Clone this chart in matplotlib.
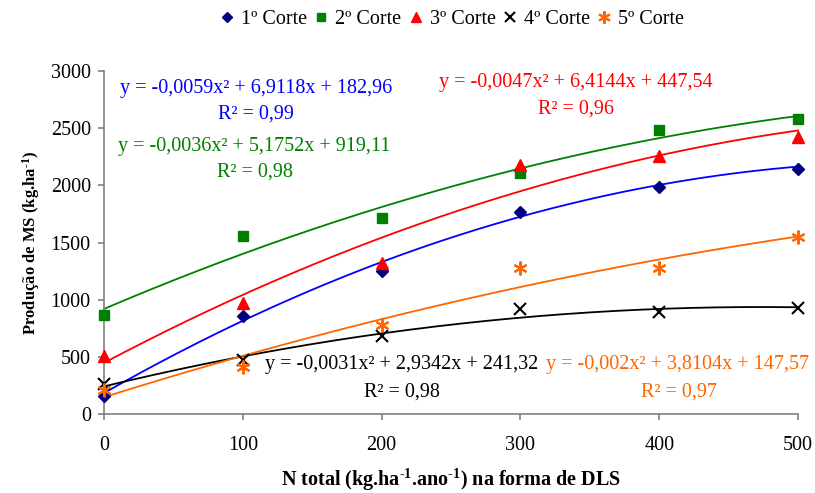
import numpy as np
import matplotlib
matplotlib.use("Agg")
import matplotlib.pyplot as plt

plt.rcParams['font.family'] = ['Liberation Serif', 'DejaVu Serif']
plt.rcParams['mathtext.fontset'] = 'custom'
plt.rcParams['mathtext.rm'] = 'Liberation Serif'
plt.rcParams['mathtext.it'] = 'Liberation Serif:italic'
plt.rcParams['mathtext.bf'] = 'Liberation Serif:bold'

# N doses (kg/ha/yr)
doses = [0, 100, 200, 300, 400, 500]

# Dry matter yield per cut (kg/ha)
corte1 = [160, 860, 1250, 1770, 1985, 2145]
corte2 = [870, 1560, 1710, 2110, 2480, 2580]
corte3 = [510, 970, 1320, 2180, 2260, 2420]
corte4 = [260, 470, 680, 920, 890, 930]
corte5 = [210, 410, 780, 1280, 1280, 1550]

series_names = ["1º Corte", "2º Corte", "3º Corte", "4º Corte", "5º Corte"]

# Quadratic fit coefficients (a, b, c) and R² for each cut
coef1 = (-0.0059, 6.9118, 182.96)
coef2 = (-0.0036, 5.1752, 919.11)
coef3 = (-0.0047, 6.4144, 447.54)
coef4 = (-0.0031, 2.9342, 241.32)
coef5 = (-0.002, 3.8104, 147.57)
r2_values = ["0,99", "0,98", "0,96", "0,98", "0,97"]
eq_texts = [
    "y = -0,0059x² + 6,9118x + 182,96",
    "y = -0,0036x² + 5,1752x + 919,11",
    "y = -0,0047x² + 6,4144x + 447,54",
    "y = -0,0031x² + 2,9342x + 241,32",
    "y = -0,002x² + 3,8104x + 147,57",
]

marker_colors = ["#000080", "#008000", "#FF0000", "#000000", "#FF6600"]
line_colors = ["#0000FF", "#008000", "#FF0000", "#000000", "#FF6600"]
markers = ["D", "s", "^", "x", (6, 2, 0)]
msizes = [6, 7, 8, 8, 10]

W, H = 815, 493
fig = plt.figure(figsize=(W/100, H/100), dpi=100)
ax = fig.add_axes([104/W, 1-414/H, (798-104)/W, (414-71)/H])

xs = np.linspace(0, 500, 300)
all_data = [corte1, corte2, corte3, corte4, corte5]
all_coef = [coef1, coef2, coef3, coef4, coef5]
handles = []
for data, coef, mc, lc, mk, ms, name in zip(all_data, all_coef, marker_colors,
                                             line_colors, markers, msizes, series_names):
    a, b, c = coef
    ax.plot(xs, a*xs**2 + b*xs + c, color=lc, lw=1.3, zorder=2, clip_on=False)
    kw = dict(color=mc, ms=ms, ls='none', zorder=3, clip_on=False)
    if mk == "x" or isinstance(mk, tuple):
        kw.update(mew=1.5)
    h, = ax.plot(doses, data, marker=mk, label=name, **kw)
    handles.append(h)

ax.set_xlim(0, 500)
ax.set_ylim(0, 3000)
ax.set_xticks(doses)
ax.set_yticks(range(0, 3001, 500))
for s in ("top", "right"):
    ax.spines[s].set_visible(False)
for s in ("left", "bottom"):
    ax.spines[s].set_color("#808080")
    ax.spines[s].set_linewidth(1.2)
ax.tick_params(axis='both', colors="#808080", labelcolor="black", labelsize=14.5,
               length=4.5, width=1.2, direction='out')
ax.tick_params(axis='x', pad=11)
ax.tick_params(axis='y', pad=5)

ax.set_xlabel("N total (kg.ha$^{\\mathbf{‐1}}$.ano$^{\\mathbf{‐1}}$) na forma de DLS",
              fontsize=14.5, fontweight='bold', labelpad=9)
ax.set_ylabel("Produção de MS (kg.ha$^{\\mathbf{‐1}}$)", fontsize=12,
              fontweight='bold', labelpad=6)

# Regression equations and determination coefficients
eq_pos = [(256, 88, 256, 114), (254, 146, 255, 172), (576, 82, 576, 109),
          (402, 364, 402, 392), (678, 364, 679, 392)]
for eq, r2, lc, (ex, ey, rx, ry) in zip(eq_texts, r2_values, line_colors, eq_pos):
    fig.text(ex/W, 1-ey/H, eq, color=lc, fontsize=14.5, ha='center', va='center')
    fig.text(rx/W, 1-ry/H, "R² = " + r2, color=lc, fontsize=14.5,
             ha='center', va='center')

fig.legend(handles=handles, loc='center', bbox_to_anchor=(452/W, 1-19/H),
           ncol=5, frameon=False, fontsize=14.5, handlelength=0.7, handletextpad=0.35,
           columnspacing=0.35, markerscale=0.9)

fig.savefig("out.png", dpi=100)
